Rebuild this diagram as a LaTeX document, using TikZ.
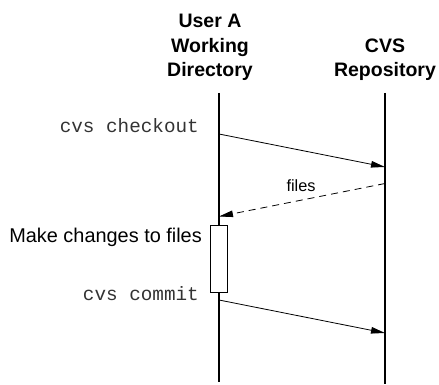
\documentclass[tikz,border=0pt]{standalone}
\usepackage{fontspec}
\setmainfont{Liberation Sans}
\setmonofont{Liberation Mono}
\usetikzlibrary{arrows.meta}
\begin{document}
\begin{tikzpicture}[x=1pt,y=-1pt,
  header/.style={font=\fontsize{19.5}{24.5}\selectfont\bfseries, align=center, inner sep=0pt, anchor=base},
  cmd/.style={font=\fontsize{19.3}{22}\selectfont\ttfamily, text=black!80, inner sep=0pt, anchor=base east},
  note/.style={font=\fontsize{19.9}{22}\selectfont, inner sep=0pt},
  lifeline/.style={line width=1.3pt},
  msg/.style={line width=0.8pt, -{Triangle[length=14pt,width=6.5pt]}},
  reply/.style={msg, dash pattern=on 7pt off 5pt},
  actbox/.style={draw, line width=0.8pt, fill=white}]
\useasboundingbox (0,0) rectangle (439,385);
% headers
\node[header] (hA) at (210,77) {User A\\Working\\Directory};
\node[header] (hR) at (385,77) {CVS\\Repository};
% lifelines
\coordinate (aTop) at (219,93);
\coordinate (aBot) at (219,382);
\coordinate (rTop) at (385,93);
\coordinate (rBot) at (385,384);
\draw[lifeline] (aTop) -- (aBot);
\draw[lifeline] (rTop) -- (rBot);
% message points
\coordinate (a1) at (219,134);
\coordinate (r1) at (385,167);
\coordinate (r2) at (385,183.5);
\coordinate (a2) at (219,216.5);
\coordinate (a3) at (219,300);
\coordinate (r3) at (385,333);
% activation box
\node[actbox, minimum width=17.5pt, minimum height=67pt, inner sep=0pt] (act) at (219,258.5) {};
% messages
\draw[msg] (a1) -- (r1);
\draw[reply] (r2) -- (a2);
\draw[msg] (a3) -- (r3);
% labels
\node[cmd] (lco) at (199,133) {cvs checkout};
\node[note, anchor=base] (lfiles) at (301,191.5) {\fontsize{16.3}{18}\selectfont files};
\node[note, anchor=base east] (lmake) at (202,242) {Make changes to files};
\node[cmd] (lcm) at (199,300) {cvs commit};
\end{tikzpicture}
\end{document}
